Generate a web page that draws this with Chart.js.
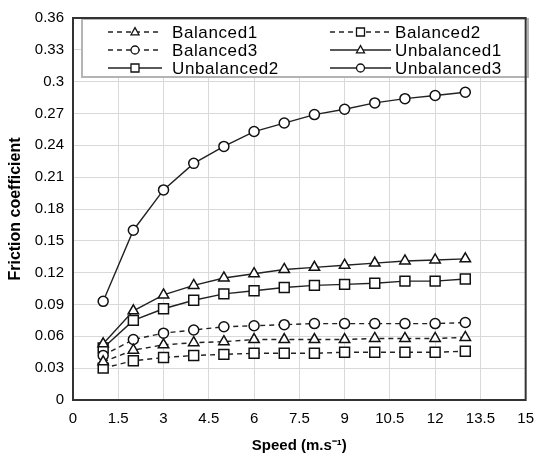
<!DOCTYPE html>
<html>
<head>
<meta charset="utf-8">
<script src="https://cdn.jsdelivr.net/npm/chart.js"></script>
<style>
  html, body { margin: 0; padding: 0; background: #fff; }
</style>
</head>
<body>
<canvas id="frictionChart" width="544" height="462"></canvas>
<script>
const speeds = [1, 2, 3, 4, 5, 6, 7, 8, 9, 10, 11, 12, 13];

const balanced1 = [0.036, 0.047, 0.052, 0.054, 0.055, 0.057, 0.057, 0.057, 0.057, 0.058, 0.058, 0.058, 0.059];
const balanced2 = [0.030, 0.037, 0.040, 0.042, 0.043, 0.044, 0.044, 0.044, 0.045, 0.045, 0.045, 0.045, 0.046];
const balanced3 = [0.042, 0.057, 0.063, 0.066, 0.069, 0.070, 0.071, 0.072, 0.072, 0.072, 0.072, 0.072, 0.073];
const unbalanced1 = [0.053, 0.084, 0.099, 0.108, 0.115, 0.119, 0.123, 0.125, 0.127, 0.129, 0.131, 0.132, 0.133];
const unbalanced2 = [0.049, 0.075, 0.086, 0.094, 0.100, 0.103, 0.106, 0.108, 0.109, 0.110, 0.112, 0.112, 0.114];
const unbalanced3 = [0.093, 0.160, 0.198, 0.223, 0.239, 0.253, 0.261, 0.269, 0.274, 0.280, 0.284, 0.287, 0.290];

const xTicks = [0, 1.5, 3, 4.5, 6, 7.5, 9, 10.5, 12, 13.5, 15];
const yTicks = [0, 0.03, 0.06, 0.09, 0.12, 0.15, 0.18, 0.21, 0.24, 0.27, 0.3, 0.33, 0.36];

const FONT = "'Liberation Sans', Arial, sans-serif";

function toPoints(values) {
  return values.map((v, i) => ({ x: speeds[i], y: v }));
}

function makeSeries(label, values, shape, dashed) {
  return {
    label: label,
    data: toPoints(values),
    showLine: true,
    borderColor: '#222',
    borderWidth: 1.4,
    borderDash: dashed ? [5, 4] : [],
    pointStyle: shape,
    pointRadius: shape === 'rect' ? 7 : (shape === 'triangle' ? 6 : 5),
    pointBackgroundColor: '#fff',
    pointBorderColor: '#111',
    pointBorderWidth: 1.5,
    tension: 0
  };
}

const series = [
  makeSeries('Balanced1', balanced1, 'triangle', true),
  makeSeries('Balanced2', balanced2, 'rect', true),
  makeSeries('Balanced3', balanced3, 'circle', true),
  makeSeries('Unbalanced1', unbalanced1, 'triangle', false),
  makeSeries('Unbalanced2', unbalanced2, 'rect', false),
  makeSeries('Unbalanced3', unbalanced3, 'circle', false)
];

function drawMarker(ctx, shape, x, y, r) {
  ctx.beginPath();
  if (shape === 'circle') {
    ctx.arc(x, y, r, 0, Math.PI * 2);
  } else if (shape === 'rect') {
    ctx.rect(x - r, y - r, r * 2, r * 2);
  } else {
    ctx.moveTo(x, y - r * 1.1);
    ctx.lineTo(x + r, y + r * 0.7);
    ctx.lineTo(x - r, y + r * 0.7);
    ctx.closePath();
  }
  ctx.fillStyle = '#fff';
  ctx.fill();
  ctx.lineWidth = 1.3;
  ctx.strokeStyle = '#111';
  ctx.stroke();
}

// plot frame + boxed legend inside the chart area
const framePlugin = {
  id: 'frame',
  afterDatasetsDraw(chart) {
    const ctx = chart.ctx;
    const a = chart.chartArea;
    ctx.save();

    // legend box
    ctx.fillStyle = '#fff';
    ctx.fillRect(82, 19, 446, 58);
    ctx.strokeStyle = '#b4b4b4';
    ctx.lineWidth = 2;
    ctx.strokeRect(82, 19, 446, 58);

    const cols = [{ x1: 108, x2: 162, tx: 172 }, { x1: 330, x2: 391, tx: 395 }];
    const rows = [32, 50, 68];
    ctx.font = '17px ' + FONT;
    ctx.letterSpacing = '0.6px';
    ctx.textBaseline = 'middle';
    chart.data.datasets.forEach((ds, i) => {
      const c = cols[i % 2];
      const y = rows[Math.floor(i / 2)];
      ctx.strokeStyle = '#222';
      ctx.lineWidth = 1.4;
      ctx.setLineDash(ds.borderDash.length ? [5, 4] : []);
      ctx.beginPath();
      ctx.moveTo(c.x1, y);
      ctx.lineTo(c.x2, y);
      ctx.stroke();
      ctx.setLineDash([]);
      drawMarker(ctx, ds.pointStyle, (c.x1 + c.x2) / 2, y, 4);
      ctx.fillStyle = '#000';
      ctx.fillText(ds.label, c.tx, y + 1);
    });

    // plot border
    ctx.strokeStyle = '#333';
    ctx.lineWidth = 2;
    ctx.strokeRect(a.left, a.top, a.right - a.left, a.bottom - a.top);
    ctx.restore();
  }
};

const ctx = document.getElementById('frictionChart').getContext('2d');
new Chart(ctx, {
  type: 'scatter',
  data: { datasets: series },
  options: {
    responsive: false,
    animation: false,
    devicePixelRatio: 1,
    layout: { padding: { top: 14, right: 11, bottom: 0, left: 0 } },
    plugins: {
      legend: { display: false },
      tooltip: { enabled: false }
    },
    scales: {
      x: {
        type: 'linear',
        min: 0,
        max: 15,
        afterBuildTicks: s => { s.ticks = xTicks.map(v => ({ value: v })); },
        afterFit: s => { s.height = 62; },
        grid: { color: '#d9d9d9', lineWidth: 1, drawTicks: false },
        border: { display: false },
        ticks: {
          padding: 10,
          color: '#000',
          maxRotation: 0,
          autoSkip: false,
          font: { size: 15, family: FONT },
          callback: v => String(parseFloat(Number(v).toFixed(2)))
        },
        title: {
          display: true,
          text: 'Speed (m.s\u207B\u00B9)',
          color: '#000',
          font: { size: 15, weight: 'bold', family: FONT },
          padding: { top: 0, bottom: 7 }
        }
      },
      y: {
        type: 'linear',
        min: 0,
        max: 0.36,
        afterBuildTicks: s => { s.ticks = yTicks.map(v => ({ value: v })); },
        afterFit: s => { s.width = 73; },
        grid: { color: '#d9d9d9', lineWidth: 1, drawTicks: false },
        border: { display: false },
        ticks: {
          padding: 9,
          color: '#000',
          autoSkip: false,
          font: { size: 15, family: FONT },
          callback: v => String(parseFloat(Number(v).toFixed(2)))
        },
        title: {
          display: true,
          text: 'Friction coefficient',
          color: '#000',
          font: { size: 16, weight: 'bold', family: FONT },
          padding: { top: 6, bottom: 0 }
        }
      }
    }
  },
  plugins: [framePlugin]
});
</script>
</body>
</html>
